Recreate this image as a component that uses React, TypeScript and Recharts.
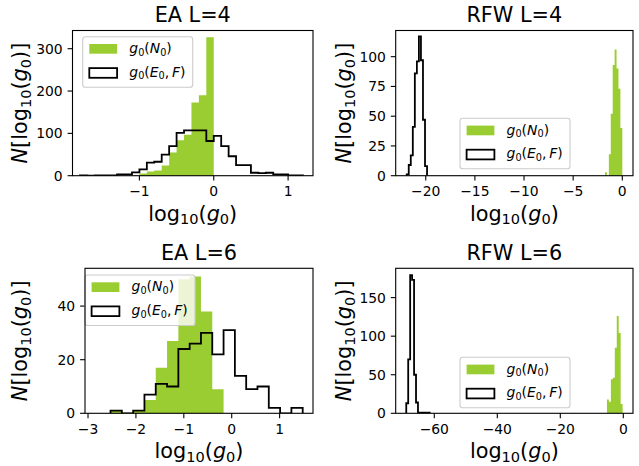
import React from 'react';
import { ComposedChart, Area, Line, XAxis, YAxis } from 'recharts';

const W = 639;
const H = 466;
const GREEN = '#9acd32';
const FONT = '"DejaVu Sans", sans-serif';

// EA L=4 : histogram bins (start, width, counts)
const eaL4GreenStart = -1.0;
const eaL4GreenWidth = 0.1;
const eaL4GreenCounts = [5, 10, 12, 24, 55, 84, 97, 173, 190, 327];
const eaL4StepStart = -1.8;
const eaL4StepWidth = 0.1;
const eaL4StepCounts = [1, 0, 1, 1, 1, 3, 3, 8, 15, 31, 33, 50, 70, 101, 107, 107, 107, 82, 94, 70, 46, 25, 25, 7, 6, 7, 3, 3, 1, 1];
const eaL4XTicks = [-1, 0, 1];
const eaL4YTicks = [0, 100, 200, 300];

// RFW L=4
const rfwL4GreenStart = -1.76;
const rfwL4GreenWidth = 0.196;
const rfwL4GreenCounts = [3, 0, 18, 52, 93, 106, 90, 73, 40];
const rfwL4StepStart = -21.94;
const rfwL4StepWidth = 0.207;
const rfwL4StepCounts = [1, 9, 17, 41, 86, 96, 117, 97, 47, 8];
const rfwL4XTicks = [-20, -15, -10, -5, 0];
const rfwL4YTicks = [0, 25, 50, 75, 100];

// EA L=6
const eaL6GreenStart = -2.53;
const eaL6GreenWidth = 0.236;
const eaL6GreenCounts = [1, 0, 1, 5, 17, 27, 50, 51, 38, 9];
const eaL6StepStart = -2.53;
const eaL6StepWidth = 0.236;
const eaL6StepCounts = [1, 0, 1, 7, 11, 10, 24, 26, 30, 22, 31, 14, 9, 10, 2, 0, 2];
const eaL6XTicks = [-3, -2, -1, 0, 1];
const eaL6YTicks = [0, 20, 40];

// RFW L=6
const rfwL6GreenStart = -5.19;
const rfwL6GreenWidth = 0.6225;
const rfwL6GreenCounts = [18, 15, 44, 46, 85, 126, 104, 12];
const rfwL6StepStart = -68.9;
const rfwL6StepWidth = 0.62;
const rfwL6StepCounts = [13, 70, 179, 173, 50, 14, 1, 0, 1, 1, 0, 1];
const rfwL6XTicks = [-60, -40, -20, 0];
const rfwL6YTicks = [0, 50, 100, 150];

type Pt = { x: number; y: number };

// turn histogram counts into points for a stepAfter curve that closes to zero
const stepPoints = (start: number, width: number, counts: number[]): Pt[] => {
  const pts: Pt[] = [{ x: start, y: 0 }];
  counts.forEach((c, i) => pts.push({ x: start + i * width, y: c }));
  pts.push({ x: start + counts.length * width, y: 0 });
  return pts;
};

type Tok = { t: string; it?: boolean; sub?: boolean };

const yLabelToks: Tok[] = [{ t: 'N', it: true }, { t: '[log' }, { t: '10', sub: true }, { t: '(' }, { t: 'g', it: true }, { t: '0', sub: true }, { t: ')]' }];
const xLabelToks: Tok[] = [{ t: 'log' }, { t: '10', sub: true }, { t: '(' }, { t: 'g', it: true }, { t: '0', sub: true }, { t: ')' }];
const legendNToks: Tok[] = [{ t: 'g', it: true }, { t: '0', sub: true }, { t: '(' }, { t: 'N', it: true }, { t: '0', sub: true }, { t: ')' }];
const legendEToks: Tok[] = [{ t: 'g', it: true }, { t: '0', sub: true }, { t: '(' }, { t: 'E', it: true }, { t: '0', sub: true }, { t: ',\u2009' }, { t: 'F', it: true }, { t: ')' }];

const MathText: React.FC<{ toks: Tok[]; x: number; y: number; size: number; anchor?: string; rotate?: boolean }> = ({ toks, x, y, size, anchor = 'start', rotate }) => {
  const shift = size * 0.18;
  return (
    <text x={x} y={y} fontSize={size} fontFamily={FONT} fill="#000" textAnchor={anchor}
      transform={rotate ? `rotate(-90 ${x} ${y})` : undefined}>
      {toks.map((k, i) => {
        const prevSub = i > 0 && toks[i - 1].sub;
        let dy: number | undefined;
        if (k.sub && !prevSub) dy = shift;
        if (!k.sub && prevSub) dy = -shift;
        return (
          <tspan key={i} dy={dy} fontStyle={k.it ? 'italic' : 'normal'} fontSize={k.sub ? size * 0.7 : size}>{k.t}</tspan>
        );
      })}
    </text>
  );
};

const fmt = (v: number) => (v < 0 ? `\u2212${Math.abs(v)}` : `${v}`);
const tickStyle = { fill: '#000', fontSize: 13.9, fontFamily: FONT };
const tickLineStyle = { stroke: '#000', strokeWidth: 1.1 };

const panels = [
  {
    title: 'EA L=4', box: { l: 72.5, r: 313, t: 30.5, b: 175.7 }, xDomain: [-1.9, 1.335], yMax: 343,
    xTicks: eaL4XTicks, yTicks: eaL4YTicks, legend: { x: 82.7, y: 36.7 }, yLabelX: 27,
    green: stepPoints(eaL4GreenStart, eaL4GreenWidth, eaL4GreenCounts),
    step: stepPoints(eaL4StepStart, eaL4StepWidth, eaL4StepCounts),
  },
  {
    title: 'RFW L=4', box: { l: 395.7, r: 633, t: 30.5, b: 175.7 }, xDomain: [-23.06, 1.09], yMax: 122,
    xTicks: rfwL4XTicks, yTicks: rfwL4YTicks, legend: { x: 460, y: 118.3 }, yLabelX: 351,
    green: stepPoints(rfwL4GreenStart, rfwL4GreenWidth, rfwL4GreenCounts),
    step: stepPoints(rfwL4StepStart, rfwL4StepWidth, rfwL4StepCounts),
  },
  {
    title: 'EA L=6', box: { l: 85, r: 313, t: 268.3, b: 413.3 }, xDomain: [-3.063, 1.697], yMax: 54.1,
    xTicks: eaL6XTicks, yTicks: eaL6YTicks, legend: { x: 85, y: 275 }, yLabelX: 27,
    green: stepPoints(eaL6GreenStart, eaL6GreenWidth, eaL6GreenCounts),
    step: stepPoints(eaL6StepStart, eaL6StepWidth, eaL6StepCounts),
  },
  {
    title: 'RFW L=6', box: { l: 395.7, r: 633, t: 268.3, b: 413.3 }, xDomain: [-72.25, 3.08], yMax: 188,
    xTicks: rfwL6XTicks, yTicks: rfwL6YTicks, legend: { x: 460, y: 357.3 }, yLabelX: 351,
    green: stepPoints(rfwL6GreenStart, rfwL6GreenWidth, rfwL6GreenCounts),
    step: stepPoints(rfwL6StepStart, rfwL6StepWidth, rfwL6StepCounts),
  },
];

type PanelCfg = typeof panels[number];

const Panel: React.FC<{ p: PanelCfg }> = ({ p }) => {
  const { box } = p;
  return (
    <div style={{ position: 'absolute', left: 0, top: 0 }}>
      <ComposedChart width={W} height={H}
        margin={{ top: box.t, right: W - box.r, bottom: H - box.b - 30, left: box.l - 50 }}>
        <XAxis type="number" dataKey="x" domain={p.xDomain} ticks={p.xTicks} allowDataOverflow interval={0}
          height={30} axisLine={false} tickLine={tickLineStyle} tickSize={4.9} tickMargin={6}
          tick={tickStyle} tickFormatter={fmt} />
        <YAxis type="number" domain={[0, p.yMax]} ticks={p.yTicks} allowDataOverflow interval={0}
          width={50} axisLine={false} tickLine={tickLineStyle} tickSize={4.9} tickMargin={4.9}
          tick={tickStyle} tickFormatter={fmt} />
        <Area data={p.green} dataKey="y" type="stepAfter" fill={GREEN} fillOpacity={1} stroke="none"
          isAnimationActive={false} activeDot={false} />
        <Line data={p.step} dataKey="y" type="stepAfter" stroke="#000" strokeWidth={1.8} dot={false}
          activeDot={false} isAnimationActive={false} />
      </ComposedChart>
    </div>
  );
};

const LegendBox: React.FC<{ x: number; y: number }> = ({ x, y }) => (
  <g>
    <rect x={x} y={y} width={110} height={50.5} rx={2.8} fill="#fff" fillOpacity={0.8} stroke="#cccccc" strokeWidth={1.1} />
    <rect x={x + 6.6} y={y + 7.3} width={27.8} height={9.7} fill={GREEN} />
    <MathText toks={legendNToks} x={x + 46.6} y={y + 16.4} size={13.9} />
    <rect x={x + 6.6} y={y + 31.4} width={27.8} height={9.7} fill="none" stroke="#000" strokeWidth={1.8} />
    <MathText toks={legendEToks} x={x + 46.6} y={y + 40} size={13.9} />
  </g>
);

export default function App() {
  return (
    <div style={{ position: 'absolute', left: 0, top: 0, width: W, height: H, background: '#fff', fontFamily: FONT }}>
      {panels.map((p) => <Panel key={p.title} p={p} />)}
      <svg width={W} height={H} style={{ position: 'absolute', left: 0, top: 0, pointerEvents: 'none' }}>
        {panels.map((p) => {
          const { box } = p;
          const cx = (box.l + box.r) / 2;
          return (
            <g key={p.title}>
              <text x={cx} y={box.t - 8.3} textAnchor="middle" fontSize={20.8} fontFamily={FONT} fill="#000">{p.title}</text>
              <MathText toks={xLabelToks} x={cx} y={box.b + 45} size={20.8} anchor="middle" />
              <MathText toks={yLabelToks} x={p.yLabelX} y={(box.t + box.b) / 2} size={20.8} anchor="middle" rotate />
              <LegendBox x={p.legend.x} y={p.legend.y} />
              <rect x={box.l} y={box.t} width={box.r - box.l} height={box.b - box.t} fill="none" stroke="#000" strokeWidth={1.1} />
            </g>
          );
        })}
      </svg>
    </div>
  );
}
